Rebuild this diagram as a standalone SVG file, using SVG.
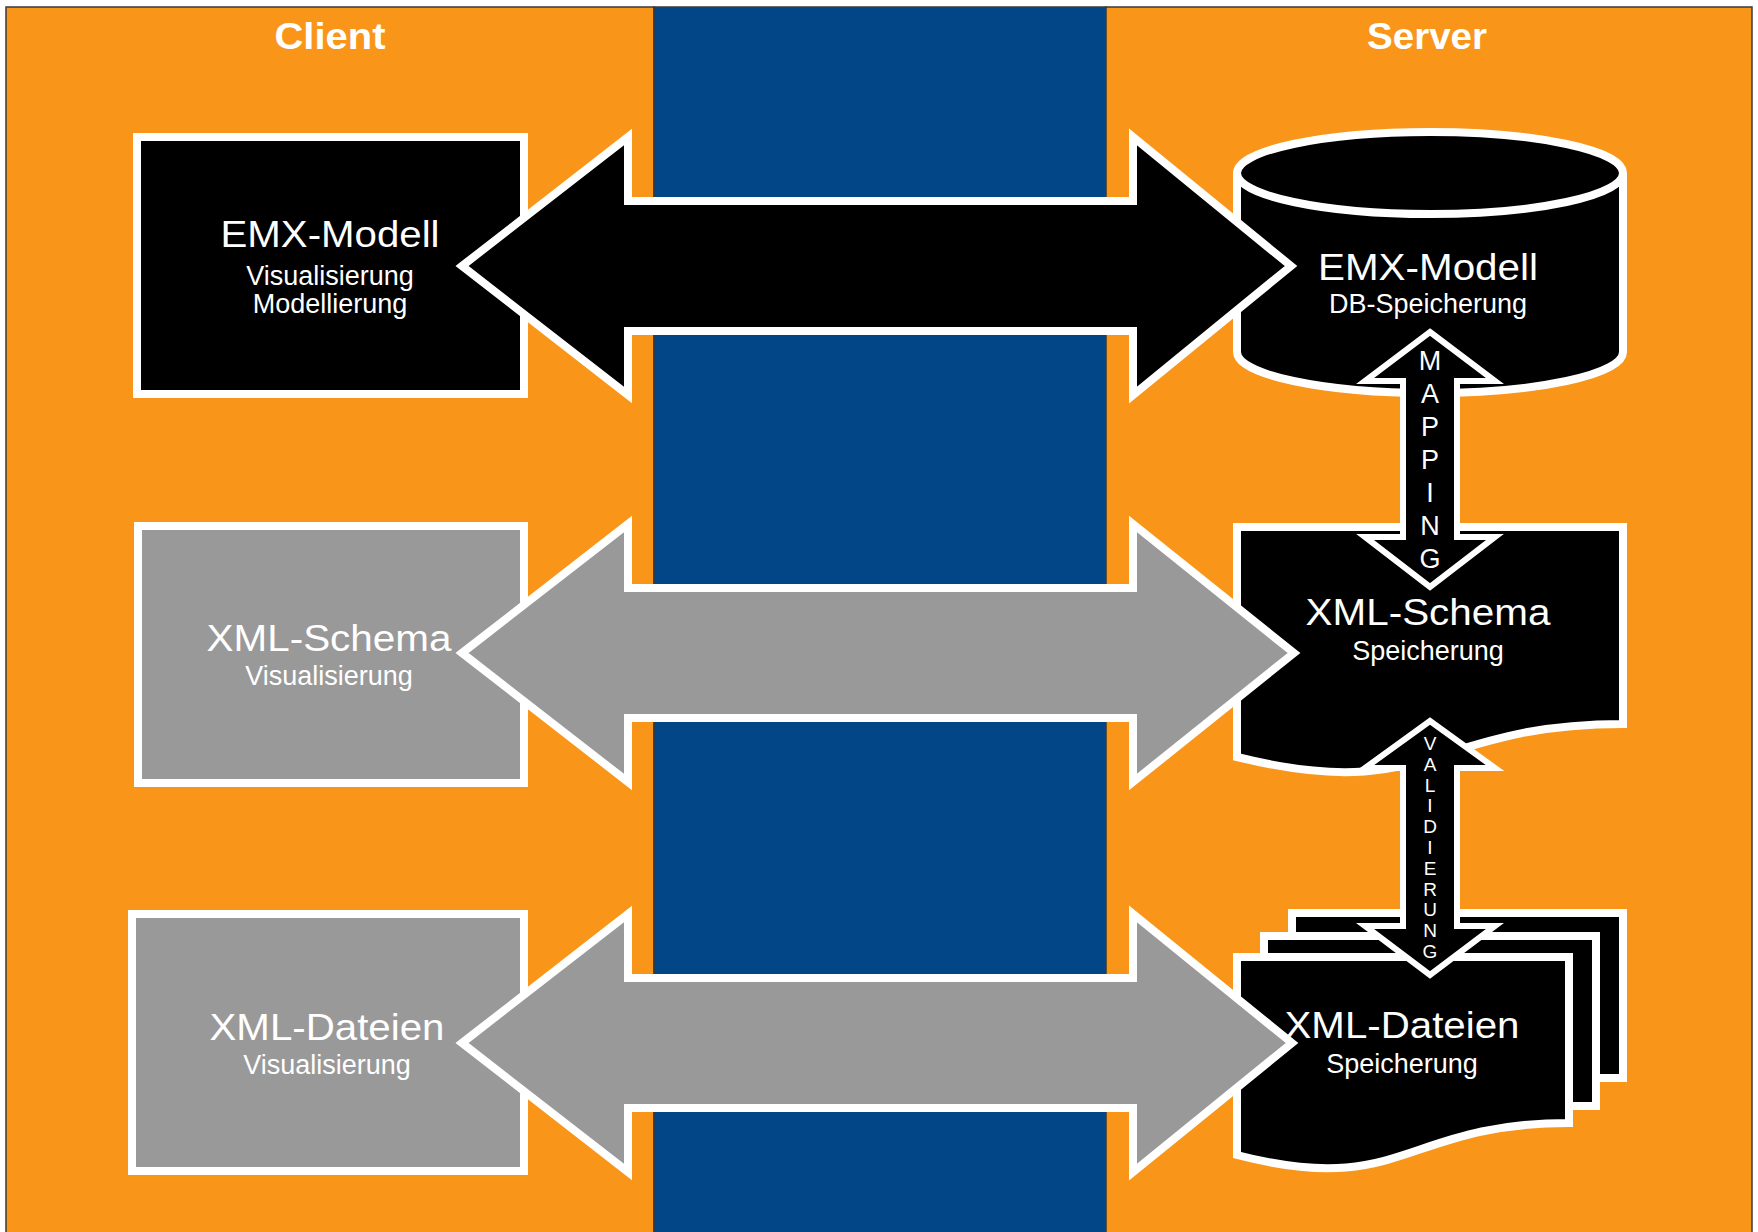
<svg xmlns="http://www.w3.org/2000/svg" width="1758" height="1232" viewBox="0 0 1758 1232">
  <defs>
    <style>
      .page { fill: #ffffff; }
      .lane-o { fill: #F9961A; stroke: #3a3a3a; stroke-width: 1.5; }
      .lane-b { fill: #024688; stroke: #3a3a3a; stroke-width: 1.5; }
      .hdr { font-family: "Liberation Sans", Arial, sans-serif; font-weight: bold; font-size: 36px; fill: #ffffff; text-anchor: middle; }
      .shape { stroke: #ffffff; stroke-width: 8; stroke-linejoin: miter; stroke-miterlimit: 10; }
      .thin { stroke: #ffffff; stroke-width: 6; stroke-linejoin: miter; stroke-miterlimit: 10; }
      .dark { fill: #000000; }
      .grey { fill: #999999; }
      .none { fill: none; }
      .t1 { font-family: "Liberation Sans", Arial, sans-serif; font-size: 37px; fill: #ffffff; text-anchor: middle; }
      .t2 { font-family: "Liberation Sans", Arial, sans-serif; font-size: 27px; fill: #ffffff; text-anchor: middle; }
      .vl { font-family: "Liberation Sans", Arial, sans-serif; font-size: 27px; fill: #ffffff; text-anchor: middle; }
      .vs { font-family: "Liberation Sans", Arial, sans-serif; font-size: 19px; fill: #ffffff; text-anchor: middle; }
    </style>
  </defs>

  <rect class="page" x="0" y="0" width="1758" height="1232"/>

  <!-- swimlanes -->
  <g id="lanes">
    <rect class="lane-o" x="6" y="7" width="648" height="1232"/>
    <rect class="lane-b" x="654" y="7" width="452" height="1232"/>
    <rect class="lane-o" x="1106" y="7" width="646" height="1232"/>
    <text class="hdr" x="330" y="49" textLength="111" lengthAdjust="spacingAndGlyphs">Client</text>
    <text class="hdr" x="1427" y="49" textLength="120" lengthAdjust="spacingAndGlyphs">Server</text>
  </g>

  <!-- client side -->
  <g id="client-emx">
    <rect class="shape dark" x="137" y="137" width="387" height="257"/>
    <text class="t1" x="330" y="247" textLength="219" lengthAdjust="spacingAndGlyphs">EMX-Modell</text>
    <text class="t2" x="330" y="285">Visualisierung</text>
    <text class="t2" x="330" y="313">Modellierung</text>
  </g>

  <g id="client-schema">
    <rect class="shape grey" x="138" y="526" width="386" height="257"/>
    <text class="t1" x="329" y="651" textLength="245" lengthAdjust="spacingAndGlyphs">XML-Schema</text>
    <text class="t2" x="329" y="685">Visualisierung</text>
  </g>

  <g id="client-files">
    <rect class="shape grey" x="132" y="914" width="392" height="257"/>
    <text class="t1" x="327" y="1040" textLength="235" lengthAdjust="spacingAndGlyphs">XML-Dateien</text>
    <text class="t2" x="327" y="1074">Visualisierung</text>
  </g>

  <!-- server side -->
  <g id="server-emx">
    <path class="shape dark" d="M1237,173 A193,41 0 0 1 1623,173 V352 A193,41 0 0 1 1237,352 Z"/>
    <path class="shape none" d="M1237,173 A193,41 0 0 0 1623,173"/>
    <text class="t1" x="1428" y="280" textLength="220" lengthAdjust="spacingAndGlyphs">EMX-Modell</text>
    <text class="t2" x="1428" y="313">DB-Speicherung</text>
  </g>

  <g id="server-schema">
    <path class="shape dark" d="M1237,527 H1623 V724 C1430,724 1430,805 1237,757 Z"/>
    <text class="t1" x="1428" y="625" textLength="245" lengthAdjust="spacingAndGlyphs">XML-Schema</text>
    <text class="t2" x="1428" y="660">Speicherung</text>
  </g>

  <g id="server-files">
    <rect class="shape dark" x="1292" y="913" width="331" height="165"/>
    <rect class="shape dark" x="1264" y="936" width="332" height="170"/>
    <path class="shape dark" d="M1237,957 H1569 V1123 C1403,1123 1403,1198 1237,1155 Z"/>
    <text class="t1" x="1402" y="1038" textLength="235" lengthAdjust="spacingAndGlyphs">XML-Dateien</text>
    <text class="t2" x="1402" y="1073">Speicherung</text>
  </g>

  <!-- connectors: block double arrows -->
  <g id="connectors">
    <polygon class="shape dark" points="462,266 628,137 628,201 1133,201 1133,137 1291,266 1133,395 1133,331 628,331 628,395"/>
    <polygon class="shape grey" points="462,653 628,524 628,588 1133,588 1133,524 1294,653 1133,782 1133,718 628,718 628,782"/>
    <polygon class="shape grey" points="462,1043 628,914 628,978 1133,978 1133,914 1292,1043 1133,1172 1133,1108 628,1108 628,1172"/>

    <g id="mapping">
      <polygon class="thin dark" points="1430,332 1495,381 1457,381 1457,537 1495,537 1430,587 1365,537 1403,537 1403,381 1365,381"/>
      <text class="vl" x="1430" y="370">M</text>
      <text class="vl" x="1430" y="403">A</text>
      <text class="vl" x="1430" y="436">P</text>
      <text class="vl" x="1430" y="469">P</text>
      <text class="vl" x="1430" y="502">I</text>
      <text class="vl" x="1430" y="535">N</text>
      <text class="vl" x="1430" y="568">G</text>
    </g>

    <g id="validierung">
      <polygon class="thin dark" points="1430,721 1495,768 1457,768 1457,926 1495,926 1430,975 1365,926 1403,926 1403,768 1365,768"/>
      <text class="vs" x="1430" y="750">V</text>
      <text class="vs" x="1430" y="771">A</text>
      <text class="vs" x="1430" y="792">L</text>
      <text class="vs" x="1430" y="812">I</text>
      <text class="vs" x="1430" y="833">D</text>
      <text class="vs" x="1430" y="854">I</text>
      <text class="vs" x="1430" y="875">E</text>
      <text class="vs" x="1430" y="896">R</text>
      <text class="vs" x="1430" y="916">U</text>
      <text class="vs" x="1430" y="937">N</text>
      <text class="vs" x="1430" y="958">G</text>
    </g>
  </g>
</svg>
